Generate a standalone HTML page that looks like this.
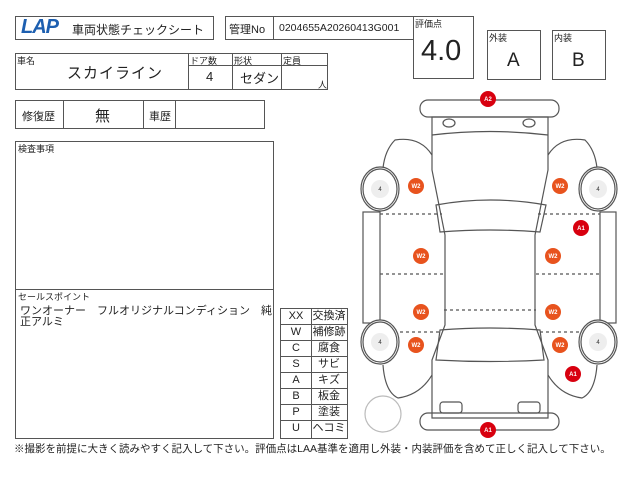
<!DOCTYPE html>
<html><head><meta charset="utf-8"><style>
body{margin:0;width:640px;height:480px;background:#fff;position:relative;overflow:hidden;font-family:"Liberation Sans","Noto Sans CJK JP",sans-serif;color:#222}
.b{position:absolute;border:1.5px solid #555;box-sizing:border-box}
.t{position:absolute;white-space:nowrap}
.l{position:absolute;background:#555}
.r{display:flex;height:15px;line-height:15px;border-top:1px solid #555}
.r span:first-child{width:30px;text-align:center}
.r span:last-child{flex:1;text-align:center}
</style></head><body>
<div class="b" style="left:15px;top:16px;width:199px;height:24px"></div>
<div class="t" style="left:21px;top:16px;font:italic 900 20px 'Liberation Sans';color:#1d5fb0;letter-spacing:-1px">LAP</div>
<div class="t" style="left:72px;top:21px;font-size:12px">車両状態チェックシート</div>
<div class="b" style="left:225px;top:16px;width:189px;height:24px"></div>
<div class="l" style="left:273px;top:16px;width:1px;height:24px"></div>
<div class="t" style="left:229px;top:21px;font-size:11px">管理No</div>
<div class="t" style="left:279px;top:22px;font-size:10.5px">0204655A20260413G001</div>
<div class="b" style="left:413px;top:16px;width:61px;height:63px"></div>
<div class="t" style="left:415px;top:17px;font-size:9px">評価点</div>
<div class="t" style="left:421px;top:35px;font-size:29px">4.0</div>
<div class="b" style="left:487px;top:30px;width:54px;height:50px"></div>
<div class="t" style="left:489px;top:31px;font-size:9px">外装</div>
<div class="t" style="left:507px;top:50px;font-size:19px">A</div>
<div class="b" style="left:552px;top:30px;width:54px;height:50px"></div>
<div class="t" style="left:554px;top:31px;font-size:9px">内装</div>
<div class="t" style="left:572px;top:50px;font-size:19px">B</div>

<div class="b" style="left:15px;top:53px;width:313px;height:37px"></div>
<div class="l" style="left:188px;top:53px;width:1px;height:37px"></div>
<div class="l" style="left:232px;top:53px;width:1px;height:37px"></div>
<div class="l" style="left:281px;top:53px;width:1px;height:37px"></div>
<div class="l" style="left:188px;top:65px;width:140px;height:1px"></div>
<div class="t" style="left:17px;top:54px;font-size:9px">車名</div>
<div class="t" style="left:67px;top:62px;font-size:15px;letter-spacing:1px">スカイライン</div>
<div class="t" style="left:190px;top:54px;font-size:9px">ドア数</div>
<div class="t" style="left:234px;top:54px;font-size:9px">形状</div>
<div class="t" style="left:283px;top:54px;font-size:9px">定員</div>
<div class="t" style="left:206px;top:69px;font-size:13px">4</div>
<div class="t" style="left:240px;top:68px;font-size:13px">セダン</div>
<div class="t" style="left:318px;top:78px;font-size:9px">人</div>

<div class="b" style="left:15px;top:100px;width:250px;height:29px"></div>
<div class="l" style="left:63px;top:100px;width:1px;height:29px"></div>
<div class="l" style="left:143px;top:100px;width:1px;height:29px"></div>
<div class="l" style="left:175px;top:100px;width:1px;height:29px"></div>
<div class="t" style="left:22px;top:108px;font-size:11px">修復歴</div>
<div class="t" style="left:95px;top:105px;font-size:15px">無</div>
<div class="t" style="left:149px;top:108px;font-size:11px">車歴</div>

<div class="b" style="left:15px;top:141px;width:259px;height:149px"></div>
<div class="t" style="left:18px;top:142px;font-size:9px">検査事項</div>
<div class="b" style="left:15px;top:289px;width:259px;height:150px"></div>
<div class="t" style="left:18px;top:290px;font-size:9px">セールスポイント</div>
<div class="t" style="left:20px;top:306px;font-size:11px;line-height:11px">ワンオーナー　フルオリジナルコンディション　純<br>正アルミ</div>

<div class="b" style="left:280px;top:308px;width:68px;height:131px"></div>
<div class="l" style="left:311px;top:308px;width:1px;height:131px"></div>
<div style="position:absolute;left:281px;top:308px;width:66px;font-size:11px">
<div class="r" style="border-top:none;height:16px;line-height:16px"><span>XX</span><span>交換済</span></div>
<div class="r"><span>W</span><span>補修跡</span></div>
<div class="r"><span>C</span><span>腐食</span></div>
<div class="r"><span>S</span><span>サビ</span></div>
<div class="r"><span>A</span><span>キズ</span></div>
<div class="r"><span>B</span><span>板金</span></div>
<div class="r"><span>P</span><span>塗装</span></div>
<div class="r"><span>U</span><span>ヘコミ</span></div>
</div>
<div class="t" style="left:14px;top:441px;font-size:10.5px">※撮影を前提に大きく読みやすく記入して下さい。評価点はLAA基準を適用し外装・内装評価を含めて正しく記入して下さい。</div>

<svg style="position:absolute;left:0;top:0" width="640" height="480" fill="none" stroke="#555" stroke-width="1.2">
<rect x="420" y="100" width="139" height="17" rx="8"/>
<path d="M432 117 L432 170 L445 235 L445 325 L432 360 L432 418 L548 418 L548 360 L535 325 L535 235 L548 170 L548 117 Z"/>
<path d="M432 135 Q490 128 548 135"/>
<ellipse cx="449" cy="123" rx="6" ry="4"/><ellipse cx="529" cy="123" rx="6" ry="4"/>
<path d="M436 205 Q490 195 546 205 L540 232 Q490 228 440 232 Z"/>
<path d="M440 330 Q490 326 540 330 L544 360 Q490 363 436 360 Z"/>
<rect x="440" y="402" width="22" height="11" rx="3"/><rect x="518" y="402" width="22" height="11" rx="3"/>
<rect x="420" y="413" width="139" height="17" rx="8"/>
<rect x="363" y="212" width="17" height="111"/><rect x="600" y="212" width="16" height="111"/>
<path d="M432 155 Q420 136 395 140 Q385 150 383 168"/>
<path d="M548 155 Q560 136 585 140 Q595 150 597 168"/>
<path d="M432 375 Q420 395 398 398 Q385 392 383 365"/>
<path d="M548 375 Q560 395 582 398 Q595 392 597 365"/>
<g stroke-dasharray="3 3">
<line x1="380" y1="214" x2="442" y2="214"/><line x1="538" y1="214" x2="600" y2="214"/>
<line x1="380" y1="274" x2="444" y2="274"/><line x1="536" y1="274" x2="600" y2="274"/>
<line x1="444" y1="310" x2="536" y2="310"/>
<line x1="400" y1="332" x2="440" y2="332"/><line x1="540" y1="332" x2="580" y2="332"/>
</g>
<g>
<ellipse cx="380" cy="189" rx="19" ry="22" fill="#fff"/><ellipse cx="380" cy="189" rx="17" ry="20"/><circle cx="380" cy="189" r="9" fill="#eee" stroke="none"/>
<ellipse cx="598" cy="189" rx="19" ry="22" fill="#fff"/><ellipse cx="598" cy="189" rx="17" ry="20"/><circle cx="598" cy="189" r="9" fill="#eee" stroke="none"/>
<ellipse cx="380" cy="342" rx="19" ry="22" fill="#fff"/><ellipse cx="380" cy="342" rx="17" ry="20"/><circle cx="380" cy="342" r="9" fill="#eee" stroke="none"/>
<ellipse cx="598" cy="342" rx="19" ry="22" fill="#fff"/><ellipse cx="598" cy="342" rx="17" ry="20"/><circle cx="598" cy="342" r="9" fill="#eee" stroke="none"/>
</g>
<circle cx="383" cy="414" r="18" stroke="#bbb"/>
<g stroke="none" fill="#e8531e">
<circle cx="416" cy="186" r="8"/><circle cx="560" cy="186" r="8"/>
<circle cx="421" cy="256" r="8"/><circle cx="553" cy="256" r="8"/>
<circle cx="421" cy="312" r="8"/><circle cx="553" cy="312" r="8"/>
<circle cx="416" cy="345" r="8"/><circle cx="560" cy="345" r="8"/>
</g>
<g stroke="none" fill="#d8000f">
<circle cx="488" cy="99" r="8"/><circle cx="581" cy="228" r="8"/><circle cx="573" cy="374" r="8"/><circle cx="488" cy="430" r="8"/>
</g>
<g stroke="none" fill="#fff" font-size="6" font-weight="bold" text-anchor="middle" font-family="Liberation Sans">
<text x="416" y="188">W2</text><text x="560" y="188">W2</text>
<text x="421" y="258">W2</text><text x="553" y="258">W2</text>
<text x="421" y="314">W2</text><text x="553" y="314">W2</text>
<text x="416" y="347">W2</text><text x="560" y="347">W2</text>
<text x="488" y="101">A2</text><text x="581" y="230">A1</text><text x="573" y="376">A1</text><text x="488" y="432">A1</text>
</g>
<g stroke="none" fill="#333" font-size="6" text-anchor="middle" font-family="Liberation Sans">
<text x="380" y="191">4</text><text x="598" y="191">4</text><text x="380" y="344">4</text><text x="598" y="344">4</text>
</g>
</svg>
</body></html>
